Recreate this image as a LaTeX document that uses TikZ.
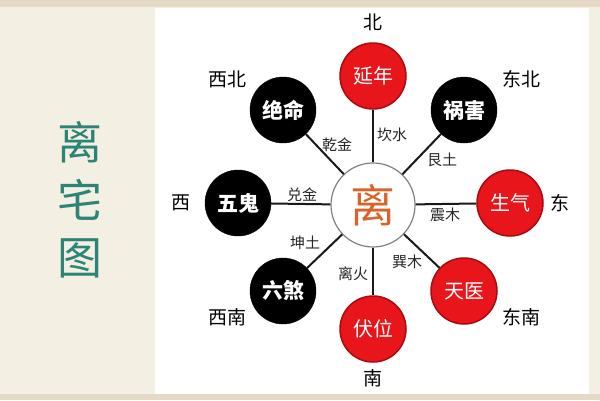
\documentclass[tikz,border=0pt]{standalone}
\usepackage{fontspec}
\setmainfont{Noto Sans CJK SC}
\definecolor{bgbeige}{HTML}{F4EFE3}
\definecolor{stripc}{HTML}{E3D9C4}
\definecolor{teal}{HTML}{2C8476}
\definecolor{redfill}{HTML}{E8151B}
\definecolor{redline}{HTML}{A80C10}
\definecolor{lioc}{HTML}{D8642A}
\tikzset{
  redc/.style={circle, fill=redfill, draw=redline, line width=1.5pt, minimum size=66pt, inner sep=0pt, text=white, font=\fontsize{20}{20}\selectfont},
  blkc/.style={circle, fill=black, draw=black, minimum size=66pt, inner sep=0pt, text=white, font=\fontsize{21}{21}\selectfont\bfseries},
  dirl/.style={font=\fontsize{19}{19}\selectfont, text=black, inner sep=0pt},
  spl/.style={font=\fontsize{15}{15}\selectfont, text=black!85, inner sep=0pt},
  spoke/.style={line width=2pt, black!90},
}
\begin{document}
\begin{tikzpicture}[x=1pt,y=-1pt]
\useasboundingbox (0,0) rectangle (600,400);
\fill[bgbeige] (0,0) rectangle (600,400);
\fill[stripc] (0,0) rectangle (600,7);
\fill[stripc] (0,394) rectangle (600,400);
\fill[white] (155,8) rectangle (589,394);
% title
\node[text=teal, font=\fontsize{45}{45}\selectfont, inner sep=0pt] (t1) at (80,142) {离};
\node[text=teal, font=\fontsize{45}{45}\selectfont, inner sep=0pt] (t2) at (80,200) {宅};
\node[text=teal, font=\fontsize{45}{45}\selectfont, inner sep=0pt] (t3) at (80,258) {图};
% center
\node[circle, fill=white, draw=black!50, line width=1.2pt, minimum size=84pt, inner sep=0pt, text=lioc, font=\fontsize{45}{45}\selectfont] (c) at (373,205) {离};
% outer circles
\node[redc] (n) at (373,76) {延年};
\node[blkc] (nw) at (283,110) {绝命};
\node[blkc] (ne) at (464,110) {祸害};
\node[blkc] (w) at (238,203) {五鬼};
\node[redc] (e) at (510,203) {生气};
\node[blkc] (sw) at (283,291) {六煞};
\node[redc] (se) at (464,291) {天医};
\node[redc] (s) at (373,329) {伏位};
% spokes
\foreach \t in {n,nw,ne,w,e,sw,se,s} {\draw[spoke] (c) -- (\t);}
% direction labels
\node[dirl] (dn) at (373,22) {北};
\node[dirl] (dnw) at (227,79) {西北};
\node[dirl] (dne) at (521,79) {东北};
\node[dirl] (dw) at (181,203) {西};
\node[dirl] (de) at (560,203) {东};
\node[dirl] (dsw) at (227,317) {西南};
\node[dirl] (dse) at (521,317) {东南};
\node[dirl] (ds) at (373,378) {南};
% spoke labels
\node[spl] (l1) at (392,135) {坎水};
\node[spl] (l2) at (337,145) {乾金};
\node[spl] (l3) at (442,160) {艮土};
\node[spl] (l4) at (302,195) {兑金};
\node[spl] (l5) at (445,215) {震木};
\node[spl] (l6) at (305,243) {坤土};
\node[spl] (l7) at (353,274) {离火};
\node[spl] (l8) at (407,262) {巽木};
\end{tikzpicture}
\end{document}
